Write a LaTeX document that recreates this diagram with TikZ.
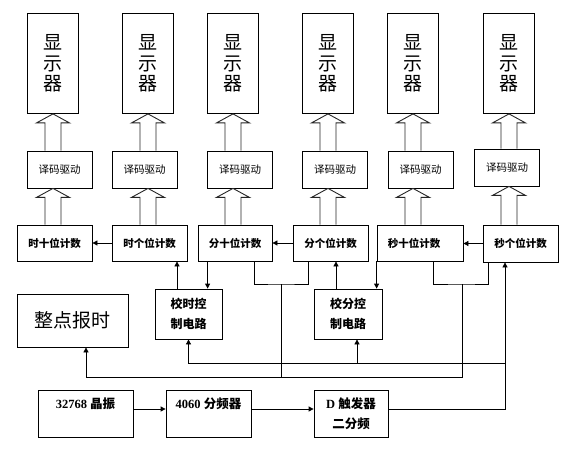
\documentclass[tikz,border=0pt]{standalone}
\usepackage{fontspec}
\setmainfont{Liberation Serif}
\newfontfamily\cjk{Noto Sans CJK SC}
\usetikzlibrary{arrows.meta,calc}
\tikzset{
    box/.style={
        rectangle,
        draw,
        line width=0.8pt,
        inner sep=0pt,
        font=\cjk
    },
    disp/.style={box,minimum width=51pt,minimum height=100pt,align=center,
        font=\cjk\fontsize{19}{20.5}\selectfont},
    dec/.style={box,minimum width=65pt,minimum height=37pt,
        font=\cjk\fontsize{10.5}{12}\selectfont},
    cnt/.style={box,minimum width=75pt,minimum height=36pt,
        font=\cjk\bfseries\fontsize{10.5}{12}\selectfont},
    ctl/.style={box,minimum width=67pt,minimum height=50pt,align=center,
        font=\cjk\bfseries\fontsize{12}{20}\selectfont},
    src/.style={box,minimum height=47pt,align=center,
        font=\bfseries\fontsize{12.5}{20}\selectfont},
    arr/.style={-{Triangle[length=5pt,width=5pt]},line width=0.8pt},
    wire/.style={line width=0.8pt},
    fat/.style={draw=black!85,fill=white,line width=0.9pt}
}
% hollow arrow: x from #1, from top of #2 up to bottom of #3
\newcommand{\fatarrow}[3]{%
  \draw[fat] let \p1=(#1.south),\p2=(#2.north),\p3=(#3.south) in
    (\x1-8pt,\y2) -- (\x1-8pt,\y3-9pt) -- (\x1-16.5pt,\y3-9pt) -- (\x1,\y3)
    -- (\x1+16.5pt,\y3-9pt) -- (\x1+8pt,\y3-9pt) -- (\x1+8pt,\y2);}

\begin{document}
\begin{tikzpicture}[x=1pt,y=-1pt]
\useasboundingbox (0,0) rectangle (568,453);
% displays
\foreach \i/\x in {1/53,2/148,3/233,4/328,5/413,6/509}
  \node[disp] (disp\i) at (\x,63.5) {显\\示\\器};
% decoders
\foreach \i/\x/\y in {1/59.5/169.5,2/144.5/169.5,3/240/169.5,4/335/169.5,5/420.5/169.5,6/507/167.5}
  \node[dec] (dec\i) at (\x,\y) {译码驱动};
% counters
\node[cnt] (cnt1) at (54.5,243) {时十位计数};
\node[cnt] (cnt2) at (149.5,243) {时个位计数};
\node[cnt,minimum width=74pt] (cnt3) at (235,243) {分十位计数};
\node[cnt] (cnt4) at (330.5,243) {分个位计数};
\node[cnt,minimum width=86pt] (cnt5) at (420,243) {\hspace*{-12pt}秒十位计数};
\node[cnt,minimum height=37pt] (cnt6) at (520.5,243.5) {秒个位计数};
% control, alarm
\node[ctl] (hctl) at (188.5,314) {校时控\\制电路};
\node[ctl,minimum width=68pt] (mctl) at (348,314) {校分控\\制电路};
\node[box,minimum width=111pt,minimum height=53pt,font=\cjk\fontsize{19}{20}\selectfont]
  (alarm) at (72.5,320.5) {整点报时};
% clock source
\node[src,minimum width=95pt] (osc) at (85.5,413.5) {32768 {\cjk 晶振}\\{\cjk\phantom{二}}};
\node[src,minimum width=85pt] (div) at (208.5,413.5) {4060 {\cjk 分频器}\\{\cjk\phantom{二}}};
\node[src,minimum width=74pt] (dff) at (351,413.5) {D {\cjk 触发器}\\{\cjk 二分频}};

\foreach \i in {1,...,6}{
  \fatarrow{disp\i}{dec\i}{disp\i}
  \fatarrow{disp\i}{cnt\i}{dec\i}
}

\coordinate (m1) at (281,284);
\coordinate (s1) at (462,284);
\coordinate (b1) at (0,377);
\coordinate (b2) at (0,363);

\draw[arr] (cnt2) -- (cnt1);
\draw[arr] (cnt4) -- (cnt3);
\draw[arr] (cnt6.west) -- (cnt6.west -| cnt5.east);
\draw[arr] ([xshift=10pt]cnt3.south west) -- ([xshift=10pt]cnt3.south west |- hctl.north);
\draw[arr] ([xshift=-11.5pt]hctl.north) -- ([xshift=-11.5pt]hctl.north |- cnt2.south);
\draw[arr] ([xshift=-12pt]mctl.north) -- ([xshift=-12pt]mctl.north |- cnt4.south);
\draw[arr] (cnt5.south west) -- (cnt5.south west |- mctl.north);
% carries
\draw[wire] ([xshift=19pt]cnt3.south) |- (m1) -| ([xshift=-22.5pt]cnt4.south);
\draw[wire] ([xshift=13pt]cnt5.south) |- (s1) -| ([xshift=-32.5pt]cnt6.south);
\draw[wire] (m1) -- (m1 |- b1);
\draw[arr] (s1) -- (s1 |- b1) -| ([xshift=13.5pt]alarm.south);
% clock
\draw[arr] ([yshift=4.5pt]osc.east) -- ([yshift=4.5pt]osc.east -| div.west);
\draw[arr] ([yshift=4.5pt]div.east) -- ([yshift=4.5pt]div.east -| dff.west);
\draw[arr] ([yshift=4.5pt]dff.east) -| ([xshift=-15.5pt]cnt6.south);
\draw[arr] ([xshift=-15.5pt]cnt6.south |- b2) -| ([xshift=9pt]mctl.south);
\draw[arr] ([xshift=9pt]mctl.south |- b2) -| (hctl.south);
\end{tikzpicture}
\end{document}
